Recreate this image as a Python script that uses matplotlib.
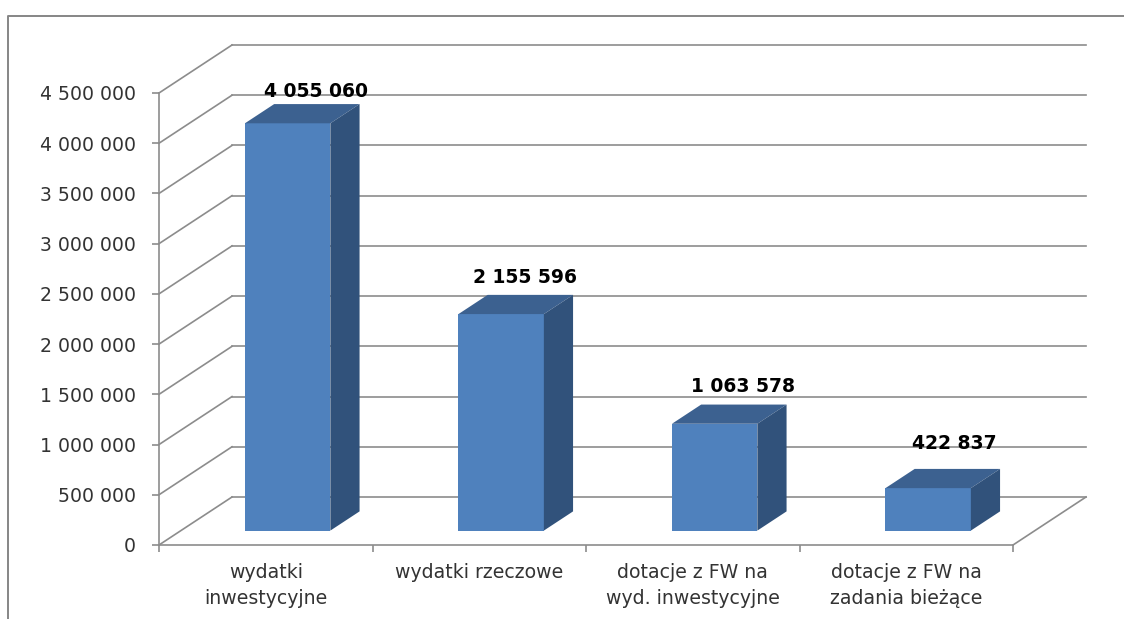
import matplotlib
matplotlib.use('Agg')
import matplotlib.pyplot as plt
from matplotlib.lines import Line2D

plt.rcParams['font.family'] = ['DejaVu Sans']

categories = ['wydatki\ninwestycyjne', 'wydatki rzeczowe',
              'dotacje z FW na\nwyd. inwestycyjne', 'dotacje z FW na\nzadania bieżące']
values = [4055060, 2155596, 1063578, 422837]
value_labels = ['4 055 060', '2 155 596', '1 063 578', '422 837']
y_ticks = [0, 500000, 1000000, 1500000, 2000000, 2500000, 3000000, 3500000, 4000000, 4500000]
y_tick_labels = ['0', '500 000', '1 000 000', '1 500 000', '2 000 000',
                 '2 500 000', '3 000 000', '3 500 000', '4 000 000', '4 500 000']

# fake 3D: how far the back wall is shifted, in data units
DEPTH_X = 0.342
DEPTH_Y = 478000
FRONT = 0.3   # bar front/back as a fraction of the depth
BACK = 0.7
WIDTH = 0.4
GRID = '#8c8c8c'

W, H = 1124, 619
fig = plt.figure(figsize=(W / 100, H / 100), dpi=100)
ax = fig.add_axes([159 / W, 1 - 545 / H, (1013 - 159) / W, (545 - 93) / H])
ax.set_xlim(0, 4)
ax.set_ylim(0, 4500000)
ax.patch.set_visible(False)
for side in ['top', 'right']:
    ax.spines[side].set_visible(False)
for side in ['left', 'bottom']:
    ax.spines[side].set_color(GRID)
    ax.spines[side].set_linewidth(1.2)

# back wall gridlines and the diagonals on the side wall
for t in y_ticks:
    ax.plot([DEPTH_X, 4 + DEPTH_X], [t + DEPTH_Y, t + DEPTH_Y], color=GRID, lw=1.2, clip_on=False, zorder=1)
    ax.plot([0, DEPTH_X], [t, t + DEPTH_Y], color=GRID, lw=1.2, clip_on=False, zorder=1)
ax.plot([4, 4 + DEPTH_X], [0, DEPTH_Y], color=GRID, lw=1.2, clip_on=False, zorder=1)

# bars: front face, top and side
for i, v in enumerate(values):
    x0 = i + 0.3 + FRONT * DEPTH_X
    x1 = x0 + WIDTH
    y0 = FRONT * DEPTH_Y
    dx = (BACK - FRONT) * DEPTH_X
    dy = (BACK - FRONT) * DEPTH_Y
    ax.bar(x0, v, width=WIDTH, bottom=y0, align='edge', color='#4f81bd', zorder=3, clip_on=False)
    ax.fill([x0, x1, x1 + dx, x0 + dx], [y0 + v, y0 + v, y0 + v + dy, y0 + v + dy],
            color='#3c6190', zorder=3, clip_on=False, lw=0)
    ax.fill([x1, x1 + dx, x1 + dx, x1], [y0, y0 + dy, y0 + v + dy, y0 + v],
            color='#31527b', zorder=3, clip_on=False, lw=0)

# value labels sit above the back edge of each bar
label_shift = [(-1, 13), (-5, 17), (-1, 18), (-3, 25)]
for i, v in enumerate(values):
    x = i + 0.5 + BACK * DEPTH_X
    y = v + BACK * DEPTH_Y
    ax.annotate(value_labels[i], (x, y), xytext=label_shift[i], textcoords='offset pixels',
                ha='center', va='center', fontsize=13.5, fontweight='bold', color='black',
                zorder=5, annotation_clip=False)

ax.set_yticks(y_ticks)
ax.set_yticklabels(y_tick_labels, fontsize=13.6, color='#333333')
ax.tick_params(axis='y', length=5, width=1.2, color=GRID, pad=11.5)
ax.set_xticks([0, 1, 2, 3, 4])
ax.set_xticklabels([])
ax.tick_params(axis='x', length=5, width=1.2, color=GRID)

for i, c in enumerate(categories):
    ax.annotate(c, (i + 0.5, 0), xytext=(0, -18), textcoords='offset pixels', ha='center', va='top',
                fontsize=13.6, color='#333333', linespacing=1.45, annotation_clip=False)

# frame of the pasted chart, cut off on the right and at the bottom
fig.add_artist(Line2D([8 / W, 8 / W, 1], [0, 1 - 16 / H, 1 - 16 / H], color='#868686', lw=1.4))

fig.savefig('out.png', dpi=100, facecolor='white')
